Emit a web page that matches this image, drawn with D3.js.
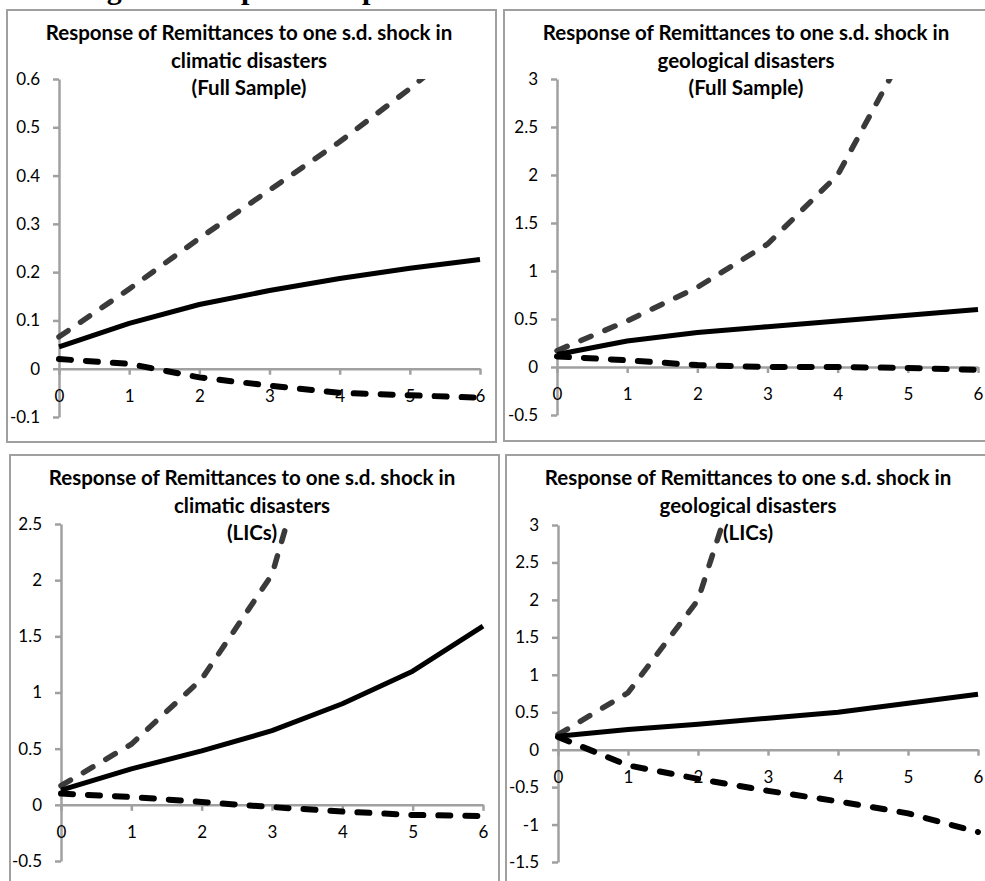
<!DOCTYPE html>
<html>
<head>
<meta charset="utf-8">
<script src="https://cdn.jsdelivr.net/npm/d3@7"></script>
<style>
  html, body { margin: 0; padding: 0; background: #fff; }
  svg { display: block; }
</style>
</head>
<body>
<svg id="irfChart" width="985" height="881"></svg>
<script>
//<![CDATA[
// horizon (periods after the shock)
const horizon = [0, 1, 2, 3, 4, 5, 6];

// climatic disasters, full sample
const climFullIrf   = [0.045, 0.094, 0.133, 0.162, 0.187, 0.208, 0.226];
const climFullUpper = [0.066, 0.165, 0.27, 0.37, 0.47, 0.58, 0.70];
const climFullLower = [0.02, 0.01, -0.018, -0.035, -0.05, -0.055, -0.06];
const climFullTicks = [-0.1, 0, 0.1, 0.2, 0.3, 0.4, 0.5, 0.6];

// geological disasters, full sample
const geoFullIrf   = [0.13, 0.27, 0.36, 0.42, 0.48, 0.54, 0.6];
const geoFullUpper = [0.17, 0.48, 0.83, 1.28, 2.0, 3.35, 5.0];
const geoFullLower = [0.11, 0.07, 0.02, 0.0, 0.0, -0.01, -0.03];
const geoFullTicks = [-0.5, 0, 0.5, 1, 1.5, 2, 2.5, 3];

// climatic disasters, LICs
const climLicIrf   = [0.13, 0.32, 0.48, 0.66, 0.9, 1.19, 1.59];
const climLicUpper = [0.17, 0.54, 1.12, 2.05, 4.2, 6.5, 9.0];
const climLicLower = [0.1, 0.07, 0.025, -0.02, -0.06, -0.09, -0.1];
const climLicTicks = [-0.5, 0, 0.5, 1, 1.5, 2, 2.5];

// geological disasters, LICs
const geoLicIrf   = [0.18, 0.27, 0.34, 0.42, 0.5, 0.62, 0.74];
const geoLicUpper = [0.2, 0.76, 2.0, 4.9, 8.0, 11.0, 14.0];
const geoLicLower = [0.17, -0.21, -0.39, -0.55, -0.69, -0.85, -1.1];
const geoLicTicks = [-1.5, -1, -0.5, 0, 0.5, 1, 1.5, 2, 2.5, 3];

const titleLine1 = "Response of Remittances to one s.d. shock in";

const svg = d3.select("#irfChart");

// figure heading, mostly cut off at the top of the page (as in the scan)
svg.append("text")
  .attr("x", 80)
  .attr("y", -1)
  .style("font-family", "'Liberation Serif', 'Times New Roman', serif")
  .style("font-weight", "bold")
  .style("font-size", "30px")
  .text("Figure 3: Impulse Responses of Remittances");

function buildIrfPanel(id, box, plot, title, ticks, irf, upper, lower) {
  const g = svg.append("g");

  // chart area border
  g.append("rect")
    .attr("x", box.x).attr("y", box.y)
    .attr("width", box.w).attr("height", box.h)
    .attr("fill", "#fff")
    .attr("stroke", "#a0a0a0")
    .attr("stroke-width", 2);

  const xScale = d3.scaleLinear()
    .domain([0, 6])
    .range([plot.left, plot.right]);

  const yScale = d3.scaleLinear()
    .domain([ticks[0], ticks[ticks.length - 1]])
    .range([plot.bottom, plot.top]);

  // Y-axis
  const yAxis = g.append("g")
    .attr("transform", `translate(${xScale(0)},0)`)
    .call(d3.axisLeft(yScale)
      .tickValues(ticks)
      .tickFormat(d => String(d))
      .tickSize(6)
      .tickSizeOuter(0)
      .tickPadding(13));

  // X-axis crosses at zero
  const xAxis = g.append("g")
    .attr("transform", `translate(0,${yScale(0)})`)
    .call(d3.axisBottom(xScale)
      .tickValues(horizon)
      .tickFormat(d => String(d))
      .tickSize(6)
      .tickSizeOuter(0)
      .tickPadding(15));

  [yAxis, xAxis].forEach(ax => {
    ax.select(".domain").attr("stroke", "#a0a0a0").attr("stroke-width", 2.5);
    ax.selectAll(".tick line").attr("stroke", "#a0a0a0").attr("stroke-width", 2.5);
    ax.selectAll("text")
      .attr("fill", "#000")
      .style("font-family", "Lato, 'Open Sans', sans-serif")
      .style("font-size", "17px");
  });

  // clip lines to the plot area
  g.append("clipPath").attr("id", id)
    .append("rect")
    .attr("x", plot.left - 5).attr("y", plot.top)
    .attr("width", plot.right - plot.left + 10)
    .attr("height", plot.bottom - plot.top + 5);

  const line = d3.line()
    .x((d, i) => xScale(horizon[i]))
    .y(d => yScale(d));

  const lines = g.append("g").attr("clip-path", `url(#${id})`);

  lines.append("path")
    .datum(upper)
    .attr("d", line)
    .attr("fill", "none")
    .attr("stroke", "#3a3a3a")
    .attr("stroke-width", 5.5)
    .attr("stroke-linecap", "round")
    .attr("stroke-dasharray", "11,15");

  lines.append("path")
    .datum(lower)
    .attr("d", line)
    .attr("fill", "none")
    .attr("stroke", "#000")
    .attr("stroke-width", 6)
    .attr("stroke-linecap", "round")
    .attr("stroke-dasharray", "12,15");

  lines.append("path")
    .datum(irf)
    .attr("d", line)
    .attr("fill", "none")
    .attr("stroke", "#000")
    .attr("stroke-width", 5)
    .attr("stroke-linejoin", "round");

  // title, three centred lines
  const cx = box.x + 242;
  g.selectAll(".title")
    .data(title)
    .enter().append("text")
    .attr("x", cx)
    .attr("y", (d, i) => box.y + 30 + i * 27.5)
    .attr("text-anchor", "middle")
    .style("font-family", "Lato, 'Open Sans', sans-serif")
    .style("font-weight", "bold")
    .style("font-size", "20.5px")
    .text(d => d);
}

buildIrfPanel("clipClimFull",
  { x: 7, y: 10, w: 489, h: 432 },
  { left: 59, right: 480, top: 79, bottom: 417 },
  [titleLine1, "climatic disasters", "(Full Sample)"],
  climFullTicks, climFullIrf, climFullUpper, climFullLower);

buildIrfPanel("clipGeoFull",
  { x: 504, y: 10, w: 495, h: 431 },
  { left: 557, right: 978, top: 79, bottom: 415 },
  [titleLine1, "geological disasters", "(Full Sample)"],
  geoFullTicks, geoFullIrf, geoFullUpper, geoFullLower);

buildIrfPanel("clipClimLic",
  { x: 10, y: 455, w: 489, h: 440 },
  { left: 61, right: 483, top: 524, bottom: 861 },
  [titleLine1, "climatic disasters", "(LICs)"],
  climLicTicks, climLicIrf, climLicUpper, climLicLower);

buildIrfPanel("clipGeoLic",
  { x: 506, y: 455, w: 495, h: 440 },
  { left: 558, right: 978, top: 525, bottom: 862 },
  [titleLine1, "geological disasters", "(LICs)"],
  geoLicTicks, geoLicIrf, geoLicUpper, geoLicLower);
//]]>
</script>
</body>
</html>
